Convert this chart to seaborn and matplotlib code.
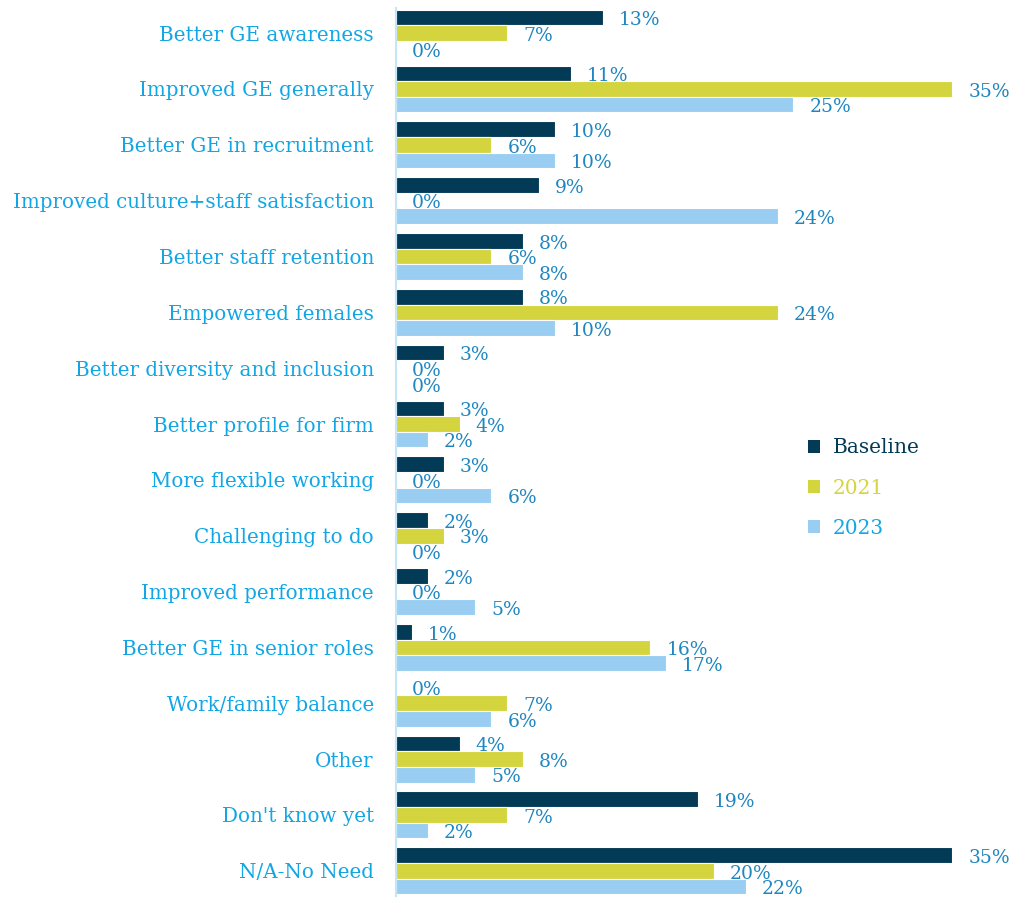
import matplotlib
matplotlib.use("Agg")
import matplotlib.pyplot as plt
import seaborn as sns
import pandas as pd
from matplotlib.patches import Patch

# Data (percent)
categories = [
    "Better GE awareness", "Improved GE generally", "Better GE in recruitment",
    "Improved culture+staff satisfaction", "Better staff retention", "Empowered females",
    "Better diversity and inclusion", "Better profile for firm", "More flexible working",
    "Challenging to do", "Improved performance", "Better GE in senior roles",
    "Work/family balance", "Other", "Don't know yet", "N/A-No Need",
]
series = ["Baseline", "2021", "2023"]
baseline = [13, 11, 10, 9, 8, 8, 3, 3, 3, 2, 2, 1, 0, 4, 19, 35]
y2021 = [7, 35, 6, 0, 6, 24, 0, 4, 0, 3, 0, 16, 7, 8, 7, 20]
y2023 = [0, 25, 10, 24, 8, 10, 0, 2, 6, 0, 5, 17, 6, 5, 2, 22]

colors = ["#033A55", "#D4D43F", "#99CEF2"]
label_blue = "#12A6E4"
value_blue = "#1F86C0"

df = pd.DataFrame({
    "category": categories * 3,
    "series": [s for s in series for _ in categories],
    "value": baseline + y2021 + y2023,
})

sns.set_style("white")
plt.rcParams["font.family"] = ["DejaVu Serif"]

fig = plt.figure(figsize=(10.12, 8.97), dpi=100)
ax = fig.add_axes([396 / 1012, 0.0, 1 - 396 / 1012, 1 - 8 / 897])

sns.barplot(data=df, y="category", x="value", hue="series", order=categories,
            hue_order=series, palette=colors, saturation=1, orient="h", width=0.84,
            edgecolor="white", linewidth=0.8, legend=False, ax=ax)

ax.set_xlim(0, 38.75)
ax.set_ylim(15.47, -0.45)

# value labels
for container in ax.containers:
    for bar in container:
        w = bar.get_width()
        yc = bar.get_y() + bar.get_height() / 2
        ax.annotate(f"{w:.0f}%", xy=(w, yc), xytext=(11.5, -2),
                    textcoords="offset points", va="center", ha="left",
                    fontsize=13.5, color=value_blue, annotation_clip=False)

ax.set_xlabel("")
ax.set_ylabel("")
ax.set_xticks([])
ax.tick_params(axis="y", length=0, pad=16)
for lab in ax.get_yticklabels():
    lab.set_color(label_blue)
    lab.set_fontsize(14.3)

for s in ["top", "right", "bottom"]:
    ax.spines[s].set_visible(False)
ax.spines["left"].set_color("#C5E6F7")
ax.spines["left"].set_linewidth(1.5)

handles = [Patch(facecolor=c, edgecolor="none") for c in colors]
leg = ax.legend(handles, series, loc="center left", bbox_to_anchor=(0.64, 0.46),
                frameon=False, fontsize=14.5, handlelength=0.6, handleheight=0.6,
                handletextpad=0.6, labelspacing=1.05)
for txt, c in zip(leg.get_texts(), ["#033A55", "#D4D43F", label_blue]):
    txt.set_color(c)

fig.savefig("out.png", dpi=100)
